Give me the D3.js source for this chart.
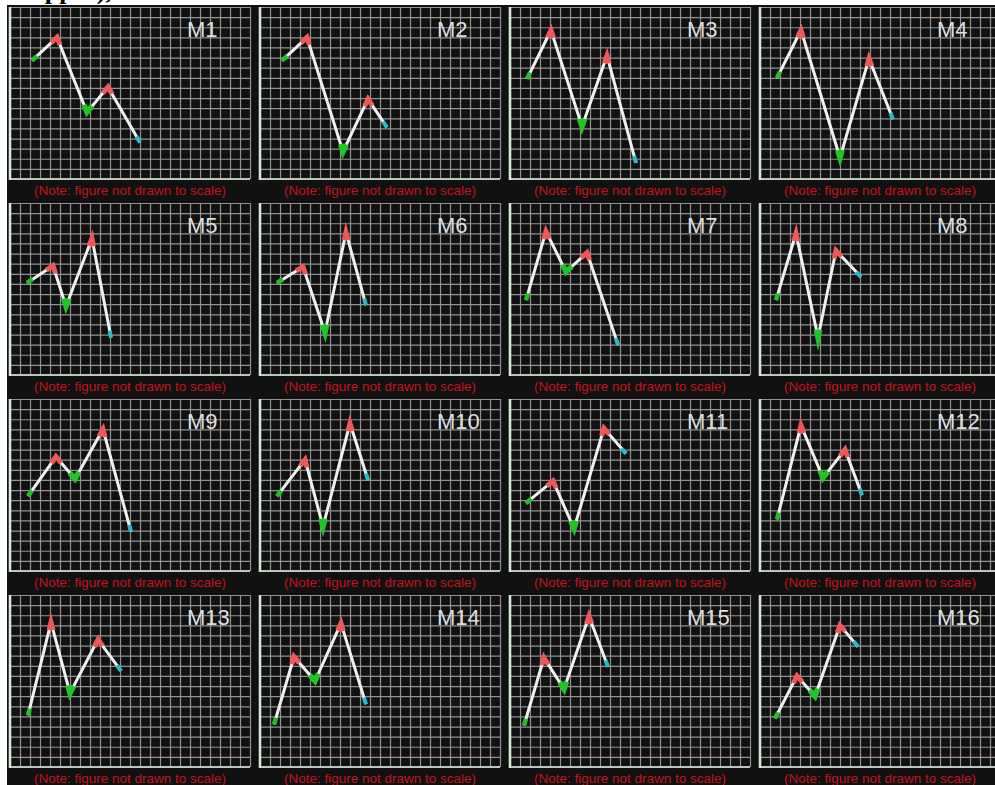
<!DOCTYPE html>
<html>
<head>
<meta charset="utf-8">
<script src="https://cdn.jsdelivr.net/npm/d3@7"></script>
<style>
  html, body { margin: 0; padding: 0; background: #fff; }
  svg { display: block; }
</style>
</head>
<body>
<svg id="chart" width="995" height="785"></svg>
<script>
// Panel titles
const panelNames = ["M1","M2","M3","M4","M5","M6","M7","M8",
                    "M9","M10","M11","M12","M13","M14","M15","M16"];

// Turning points of each zigzag, in grid units (x: 0..24 across, y: 0..17 up)
const turnX = [
  [2.2, 4.7, 7.7, 9.8, 13.0],
  [2.2, 4.7, 8.3, 10.8, 12.7],
  [1.7, 4.1, 7.2, 9.7, 12.6],
  [1.7, 4.1, 8.0, 10.9, 13.3],
  [1.7, 4.3, 5.6, 8.2, 10.1],
  [1.7, 4.3, 6.5, 8.6, 10.6],
  [1.6, 3.6, 5.6, 7.7, 10.8],
  [1.6, 3.6, 5.8, 7.6, 10.1],
  [1.8, 4.6, 6.5, 9.3, 12.1],
  [1.7, 4.5, 6.3, 9.0, 10.8],
  [1.6, 4.3, 6.4, 9.4, 11.6],
  [1.7, 4.1, 6.3, 8.5, 10.2],
  [1.8, 4.1, 6.0, 8.8, 11.1],
  [1.4, 3.4, 5.5, 8.1, 10.6],
  [1.4, 3.4, 5.4, 7.9, 9.8],
  [1.5, 3.7, 5.5, 8.0, 9.8]
];
const turnY = [
  [11.7, 14.0, 6.6, 9.1, 3.6],
  [11.7, 14.0, 2.7, 7.9, 5.1],
  [9.9, 14.7, 5.2, 12.2, 1.6],
  [10.0, 14.7, 2.1, 11.9, 5.9],
  [9.1, 10.8, 6.8, 13.5, 3.7],
  [9.1, 10.7, 4.2, 14.1, 6.9],
  [7.4, 14.2, 10.2, 12.1, 3.0],
  [7.4, 14.0, 3.7, 12.3, 9.7],
  [7.4, 11.3, 9.1, 14.0, 3.9],
  [7.4, 11.0, 4.4, 14.6, 9.0],
  [6.7, 8.9, 4.2, 14.1, 11.6],
  [5.1, 14.4, 9.2, 12.0, 7.5],
  [5.1, 14.3, 7.3, 12.6, 9.5],
  [4.2, 10.9, 8.5, 14.2, 6.2],
  [4.1, 10.8, 7.7, 14.9, 9.9],
  [4.8, 9.0, 7.0, 14.0, 11.9]
];

const noteText = "(Note: figure not drawn to scale)";
const xCells = 24, yCells = 17;

const svg = d3.select("#chart");

// Heading above the panels (runs off the top edge)
svg.append("text")
  .attr("x", 26).attr("y", -1)
  .attr("font-family", "Liberation Serif, Times New Roman, serif")
  .attr("font-weight", "bold")
  .attr("font-size", 26)
  .attr("fill", "#000")
  .text("Upper),");

// Dark backdrop behind all panels
svg.append("rect")
  .attr("x", 7).attr("y", 5)
  .attr("width", 995 - 7).attr("height", 785 - 5)
  .attr("fill", "#111");

const colors = { peak: "#ef5858", trough: "#1fc425", start: "#24c02a", end: "#27bccb" };

// point at distance d from a towards b
function toward(a, b, d) {
  const dx = b[0] - a[0], dy = b[1] - a[1];
  const len = Math.hypot(dx, dy);
  return [a[0] + dx / len * d, a[1] + dy / len * d];
}

panelNames.forEach((name, i) => {
  const c = i % 4, r = Math.floor(i / 4);
  const left = 7 + 250 * c;
  const axisX = 10 + 250 * c;
  const top = 7 + 196 * r;
  const bottom = top + 172;

  const x = d3.scaleLinear().domain([0, xCells]).range([axisX, axisX + 240]);
  const y = d3.scaleLinear().domain([0, yCells]).range([bottom, top]);

  const g = svg.append("g");

  // vertical grid lines
  const gx = g.append("g")
    .attr("transform", `translate(0,${bottom})`)
    .call(d3.axisBottom(x).tickValues(d3.range(1, xCells + 1)).tickSize(-(bottom - top)).tickFormat(""));
  gx.select(".domain").remove();
  gx.selectAll(".tick line").attr("stroke", "#929292").attr("stroke-width", 1.2);

  // horizontal grid lines
  const gy = g.append("g")
    .attr("transform", `translate(${axisX},0)`)
    .call(d3.axisLeft(y).tickValues(d3.range(0, yCells + 1)).tickSize(-240).tickFormat(""));
  gy.select(".domain").remove();
  gy.selectAll(".tick line").attr("stroke", "#929292").attr("stroke-width", 1.2);

  // axis lines
  g.append("line")
    .attr("x1", axisX).attr("x2", axisX + 240)
    .attr("y1", bottom).attr("y2", bottom)
    .attr("stroke", "#b9c9b9").attr("stroke-width", 2);
  g.append("line")
    .attr("x1", axisX).attr("x2", axisX)
    .attr("y1", top).attr("y2", bottom + 1)
    .attr("stroke", "#d6e6d4").attr("stroke-width", 2.6);

  // panel title
  g.append("text")
    .attr("x", left + 180).attr("y", top + 30)
    .attr("font-family", "Liberation Sans, Arial, sans-serif")
    .attr("font-size", 22)
    .attr("fill", "#dedede")
    .text(name);

  // note under the grid
  g.append("text")
    .attr("x", left + 123).attr("y", bottom + 16)
    .attr("text-anchor", "middle")
    .attr("font-family", "Liberation Sans, Arial, sans-serif")
    .attr("font-size", 13.5)
    .attr("fill", "#c3141b")
    .text(noteText);

  // zigzag
  const pts = turnX[i].map((v, k) => [x(v), y(turnY[i][k])]);
  g.append("path")
    .attr("d", d3.line()(pts))
    .attr("fill", "none")
    .attr("stroke", "#f0f0f0")
    .attr("stroke-width", 3)
    .attr("stroke-linejoin", "round");

  // coloured tips at each turning point
  pts.forEach((p, k) => {
    let path, col, w = 5;
    if (k === 0) {
      path = [p, toward(p, pts[1], 7)];
      col = colors.start; w = 4.5;
    } else if (k === pts.length - 1) {
      path = [toward(p, pts[k - 1], 7), p];
      col = colors.end; w = 4;
    } else {
      const v = turnY[i][k];
      const isPeak = v > turnY[i][k - 1] && v > turnY[i][k + 1];
      path = [toward(p, pts[k - 1], 8), p, toward(p, pts[k + 1], 8)];
      col = isPeak ? colors.peak : colors.trough;
      w = isPeak ? 5 : 5.5;
    }
    g.append("path")
      .attr("d", d3.line()(path))
      .attr("fill", "none")
      .attr("stroke", col)
      .attr("stroke-width", w)
      .attr("stroke-linejoin", "miter")
      .attr("stroke-miterlimit", 10);
  });
});
</script>
</body>
</html>
